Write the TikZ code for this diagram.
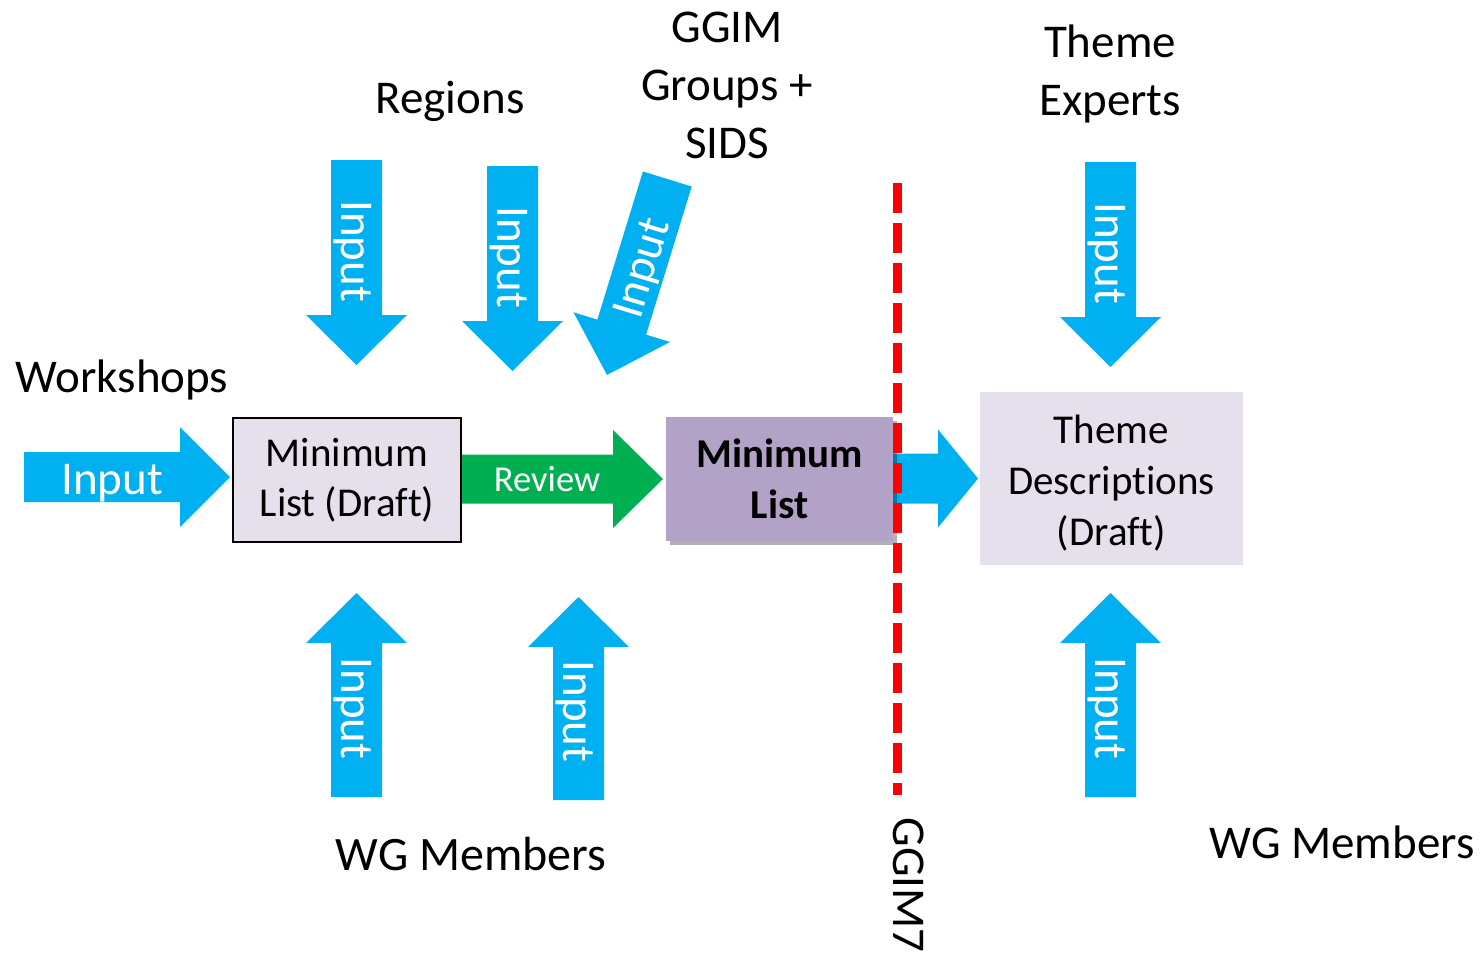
\documentclass[tikz,border=0pt]{standalone}
\usepackage{fontspec}
\setmainfont{Carlito}[Ligatures={NoCommon}]
\usetikzlibrary{shadows}
\definecolor{inblue}{HTML}{00B0F0}
\definecolor{revgreen}{HTML}{00B050}
\definecolor{lightlav}{HTML}{E6E0EC}
\definecolor{midlav}{HTML}{B3A2C7}
% #1 colour, #2 start point, #3 angle, #4 shaft length, #5 head length, #6 shaft half width, #7 head half width
\newcommand\blockarrow[7]{%
  \begin{scope}[shift={#2},rotate=#3]
    \fill[#1] (0,-#6) -- (#4,-#6) -- (#4,-#7) -- ({#4+#5},0) -- (#4,#7) -- (#4,#6) -- (0,#6) -- cycle;
  \end{scope}}
\begin{document}
\begin{tikzpicture}[x=1pt,y=1pt,
  lbl/.style={font=\fontsize{47}{58}\selectfont, align=center, inner sep=0pt, text=black},
  inlbl/.style={font=\fontsize{47}{56}\selectfont, inner sep=0pt, text=white},
  boxtxt/.style={font=\fontsize{41}{50}\selectfont, align=center, inner sep=0pt, text=black},
  draftbox/.style={boxtxt, fill=lightlav, draw=black, line width=2pt, minimum width=228pt, minimum height=124pt},
  finalbox/.style={boxtxt, font=\fontsize{41}{51}\selectfont\bfseries, fill=midlav, minimum width=227pt, minimum height=124pt,
     drop shadow={shadow xshift=4pt, shadow yshift=-4pt, opacity=0.3, fill=black}},
  themebox/.style={fill=lightlav, inner sep=0pt, minimum width=263pt, minimum height=173pt},
  cutline/.style={red, line width=9pt, dash pattern=on 30pt off 10pt}
]
\useasboundingbox (0,0) rectangle (1482,-954);

% block arrows
\blockarrow{inblue}{(24,-477)}{0}{156}{50}{25}{50}
\blockarrow{revgreen}{(459,-479)}{0}{154}{50}{24.5}{49}
\blockarrow{inblue}{(893,-478.5)}{0}{45}{40}{25}{49}
\blockarrow{inblue}{(356.5,-160)}{-90}{155}{50}{25.5}{50.5}
\blockarrow{inblue}{(512.5,-166)}{-90}{155}{50}{25.5}{50.5}
\blockarrow{inblue}{(667.3,-179)}{-107.1}{155}{50}{25.5}{50.5}
\blockarrow{inblue}{(1110.5,-162)}{-90}{155}{50}{25.5}{50.5}
\blockarrow{inblue}{(356.5,-797)}{90}{154}{50}{25.5}{50.5}
\blockarrow{inblue}{(578.5,-800)}{90}{153}{50}{25.5}{50.5}
\blockarrow{inblue}{(1110.5,-797)}{90}{154}{50}{25.5}{50.5}

% arrow texts
\node[inlbl, anchor=base] (in0) at (112,-494) {Input};
\node[inlbl, rotate=-90, anchor=base] (inA) at (341.5,-251) {Input};
\node[inlbl, rotate=-90, anchor=base] (inB) at (497.5,-257) {Input};
\node[inlbl, rotate=73, anchor=base] (inC) at (655,-272) {Input};
\node[inlbl, rotate=-90, anchor=base] (inT) at (1095.5,-253) {Input};
\node[inlbl, rotate=-90, anchor=base] (inD) at (341.5,-708.5) {Input};
\node[inlbl, rotate=-90, anchor=base] (inE) at (563.5,-711.5) {Input};
\node[inlbl, rotate=-90, anchor=base] (inF) at (1095.5,-708.5) {Input};
\node[font=\fontsize{36.5}{44}\selectfont, inner sep=0pt, text=white, anchor=base] (review) at (547,-491) {Review};

% boxes
\node[draftbox] (draft) at (347,-480) {Minimum\\List (Draft)};
\node[finalbox] (minlist) at (779.5,-478.5) {Minimum\\List};
\node[themebox] (theme) at (1111.5,-478.5) {};
\node[boxtxt, font=\fontsize{41}{51}\selectfont] (themetext) at ([yshift=-5pt]theme.center) {Theme\\Descriptions\\(Draft)};

% GGIM7 cut line
\coordinate (cuttop) at (897,-183);
\coordinate (cutbot) at (897,-795);
\draw[cutline] (cuttop) -- (cutbot);

% labels
\node[lbl, anchor=base] (workshops) at (122,-392) {Workshops};
\node[lbl, anchor=base] (regions) at (450,-113) {Regions};
\node[lbl] (ggim) at (727,-85) {GGIM\\Groups +\\SIDS};
\node[lbl] (experts) at (1110,-74) {Theme\\Experts};
\node[lbl, anchor=base, font=\fontsize{48}{58}\selectfont] (wgleft) at (471,-870) {WG Members};
\node[lbl, anchor=base] (wgright) at (1342,-858) {WG Members};
\node[lbl, rotate=-90] (ggim7) at (909,-885) {GGIM7};
\end{tikzpicture}
\end{document}
